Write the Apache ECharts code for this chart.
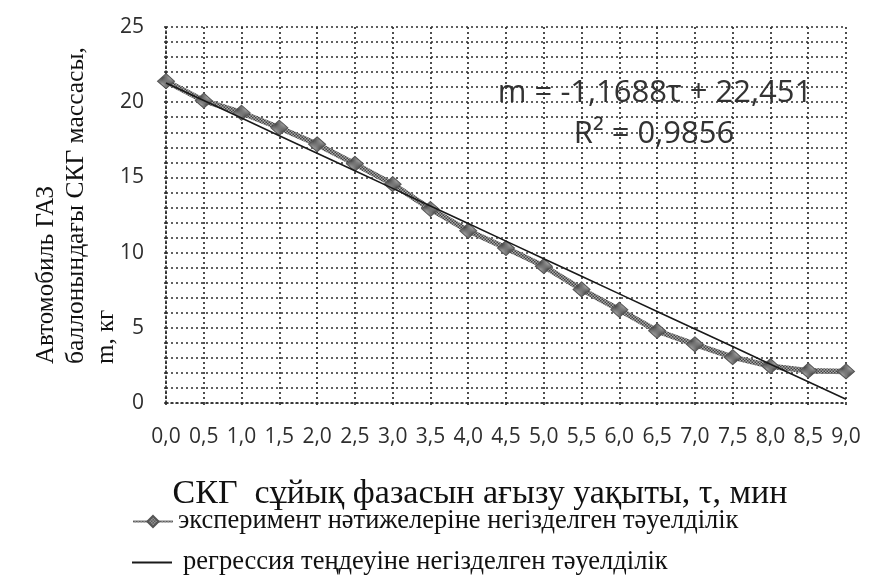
<!DOCTYPE html>
<html>
<head>
<meta charset="utf-8">
<script src="https://cdn.jsdelivr.net/npm/echarts@6/dist/echarts.min.js"></script>
<style>
  html, body { margin: 0; padding: 0; background: #ffffff; }
  #chart { width: 890px; height: 587px; }
</style>
</head>
<body>
<div id="chart"></div>
<script>
// Discharge time of the liquid LPG phase, min
const timeLabels = ['0,0','0,5','1,0','1,5','2,0','2,5','3,0','3,5','4,0','4,5',
                    '5,0','5,5','6,0','6,5','7,0','7,5','8,0','8,5','9,0'];
// Measured LPG mass in the vehicle cylinder, kg
const measuredMass = [21.4, 20.1, 19.3, 18.3, 17.2, 15.9, 14.55, 12.9, 11.45, 10.3,
                      9.1, 7.55, 6.2, 4.8, 3.9, 3.05, 2.45, 2.15, 2.1];
// Linear regression m = slope * n + intercept (n = point number, 1-based)
const regSlope = -1.1688;
const regIntercept = 22.451;
const regR2 = 0.9856;

const seriesNames = [
  'эксперимент нәтижелеріне негізделген тәуелділік',
  'регрессия теңдеуіне негізделген тәуелділік'
];

const regressionMass = timeLabels.map((_, i) => +(regSlope * (i + 1) + regIntercept).toFixed(4));

// small checkered fill for the experimental curve and its markers
function checker(dark, light, cell) {
  const c = document.createElement('canvas');
  c.width = cell * 2; c.height = cell * 2;
  const g = c.getContext('2d');
  g.fillStyle = light; g.fillRect(0, 0, c.width, c.height);
  g.fillStyle = dark;
  g.fillRect(0, 0, cell, cell);
  g.fillRect(cell, cell, cell, cell);
  return { image: c, repeat: 'repeat' };
}
const hatch = checker('#444444', '#aaaaaa', 1.5);

const fmt = v => v.toString().replace('.', ',');
const dotted = { color: '#2e2e2e', width: 1.7, type: [2, 3] };
const serif = 'Liberation Serif';

const chart = echarts.init(document.getElementById('chart'));
chart.setOption({
  backgroundColor: '#ffffff',
  animation: false,
  grid: { left: 166, right: 44, top: 27, bottom: 184, containLabel: false },
  xAxis: {
    type: 'category',
    data: timeLabels,
    boundaryGap: false,
    axisLine: { show: true, lineStyle: dotted },
    axisTick: { show: true, length: 5, interval: 0, lineStyle: dotted },
    axisLabel: { interval: 0, margin: 24, color: '#2e2e2e', fontSize: 21,
                 fontFamily: 'Open Sans' },
    splitLine: { show: true, interval: 0, lineStyle: dotted }
  },
  yAxis: {
    type: 'value',
    min: 0, max: 25, interval: 5,
    axisLine: { show: true, lineStyle: dotted },
    axisTick: { show: true, length: 5, lineStyle: dotted },
    axisLabel: { margin: 22, color: '#2e2e2e', fontSize: 21, fontFamily: 'Open Sans',
                 formatter: v => fmt(v) },
    splitLine: { show: true, lineStyle: dotted },
    minorTick: { show: true, splitNumber: 5, length: 5, lineStyle: dotted },
    minorSplitLine: { show: true, lineStyle: dotted }
  },
  legend: [
    {
      left: 132, top: 508, padding: 0,
      itemWidth: 40, itemHeight: 14, itemGap: 8,
      textStyle: { fontFamily: serif, fontSize: 26.5, color: '#111' },
      data: [seriesNames[0]]
    },
    {
      left: 132, top: 549, padding: 0,
      icon: 'rect',
      itemWidth: 40, itemHeight: 2,
      textStyle: { fontFamily: serif, fontSize: 26.5, color: '#111', padding: [0, 0, 0, 6] },
      data: [seriesNames[1]]
    }
  ],
  series: [
    {
      name: seriesNames[0],
      type: 'line',
      data: measuredMass,
      symbol: 'diamond',
      symbolSize: [17, 15],
      lineStyle: { color: hatch, width: 5.5 },
      itemStyle: { color: hatch, borderColor: '#555555', borderWidth: 1 },
      z: 3
    },
    {
      name: seriesNames[1],
      type: 'line',
      data: regressionMass,
      symbol: 'none',
      lineStyle: { color: '#1a1a1a', width: 1.6 },
      itemStyle: { color: '#1a1a1a' },
      z: 4
    }
  ],
  graphic: [
    {
      type: 'text',
      style: {
        text: 'm = ' + fmt(regSlope) + 'τ + ' + fmt(regIntercept),
        x: 655, y: 93, textAlign: 'center', textVerticalAlign: 'middle',
        fontFamily: 'Open Sans', fontSize: 31, fill: '#333'
      }
    },
    {
      type: 'text',
      style: {
        text: 'R² = ' + fmt(regR2),
        x: 654, y: 134, textAlign: 'center', textVerticalAlign: 'middle',
        fontFamily: 'Open Sans', fontSize: 31, fill: '#333'
      }
    },
    {
      type: 'text',
      style: {
        text: 'СКГ  сұйық фазасын ағызу уақыты, τ, мин',
        x: 480, y: 494, textAlign: 'center', textVerticalAlign: 'middle',
        fontFamily: serif, fontSize: 34, fill: '#111'
      }
    },
    { type: 'text', x: 46, y: 364, rotation: Math.PI / 2,
      style: { text: 'Автомобиль ГАЗ', x: 0, y: 0, textAlign: 'left', textVerticalAlign: 'middle',
               fontFamily: serif, fontSize: 25, fill: '#111' } },
    { type: 'text', x: 76, y: 364, rotation: Math.PI / 2,
      style: { text: 'баллонындағы СКГ массасы,', x: 0, y: 0, textAlign: 'left', textVerticalAlign: 'middle',
               fontFamily: serif, fontSize: 25.5, fill: '#111' } },
    { type: 'text', x: 106, y: 364, rotation: Math.PI / 2,
      style: { text: 'm, кг', x: 0, y: 0, textAlign: 'left', textVerticalAlign: 'middle',
               fontFamily: serif, fontSize: 25, fill: '#111' } }
  ]
});
</script>
</body>
</html>
